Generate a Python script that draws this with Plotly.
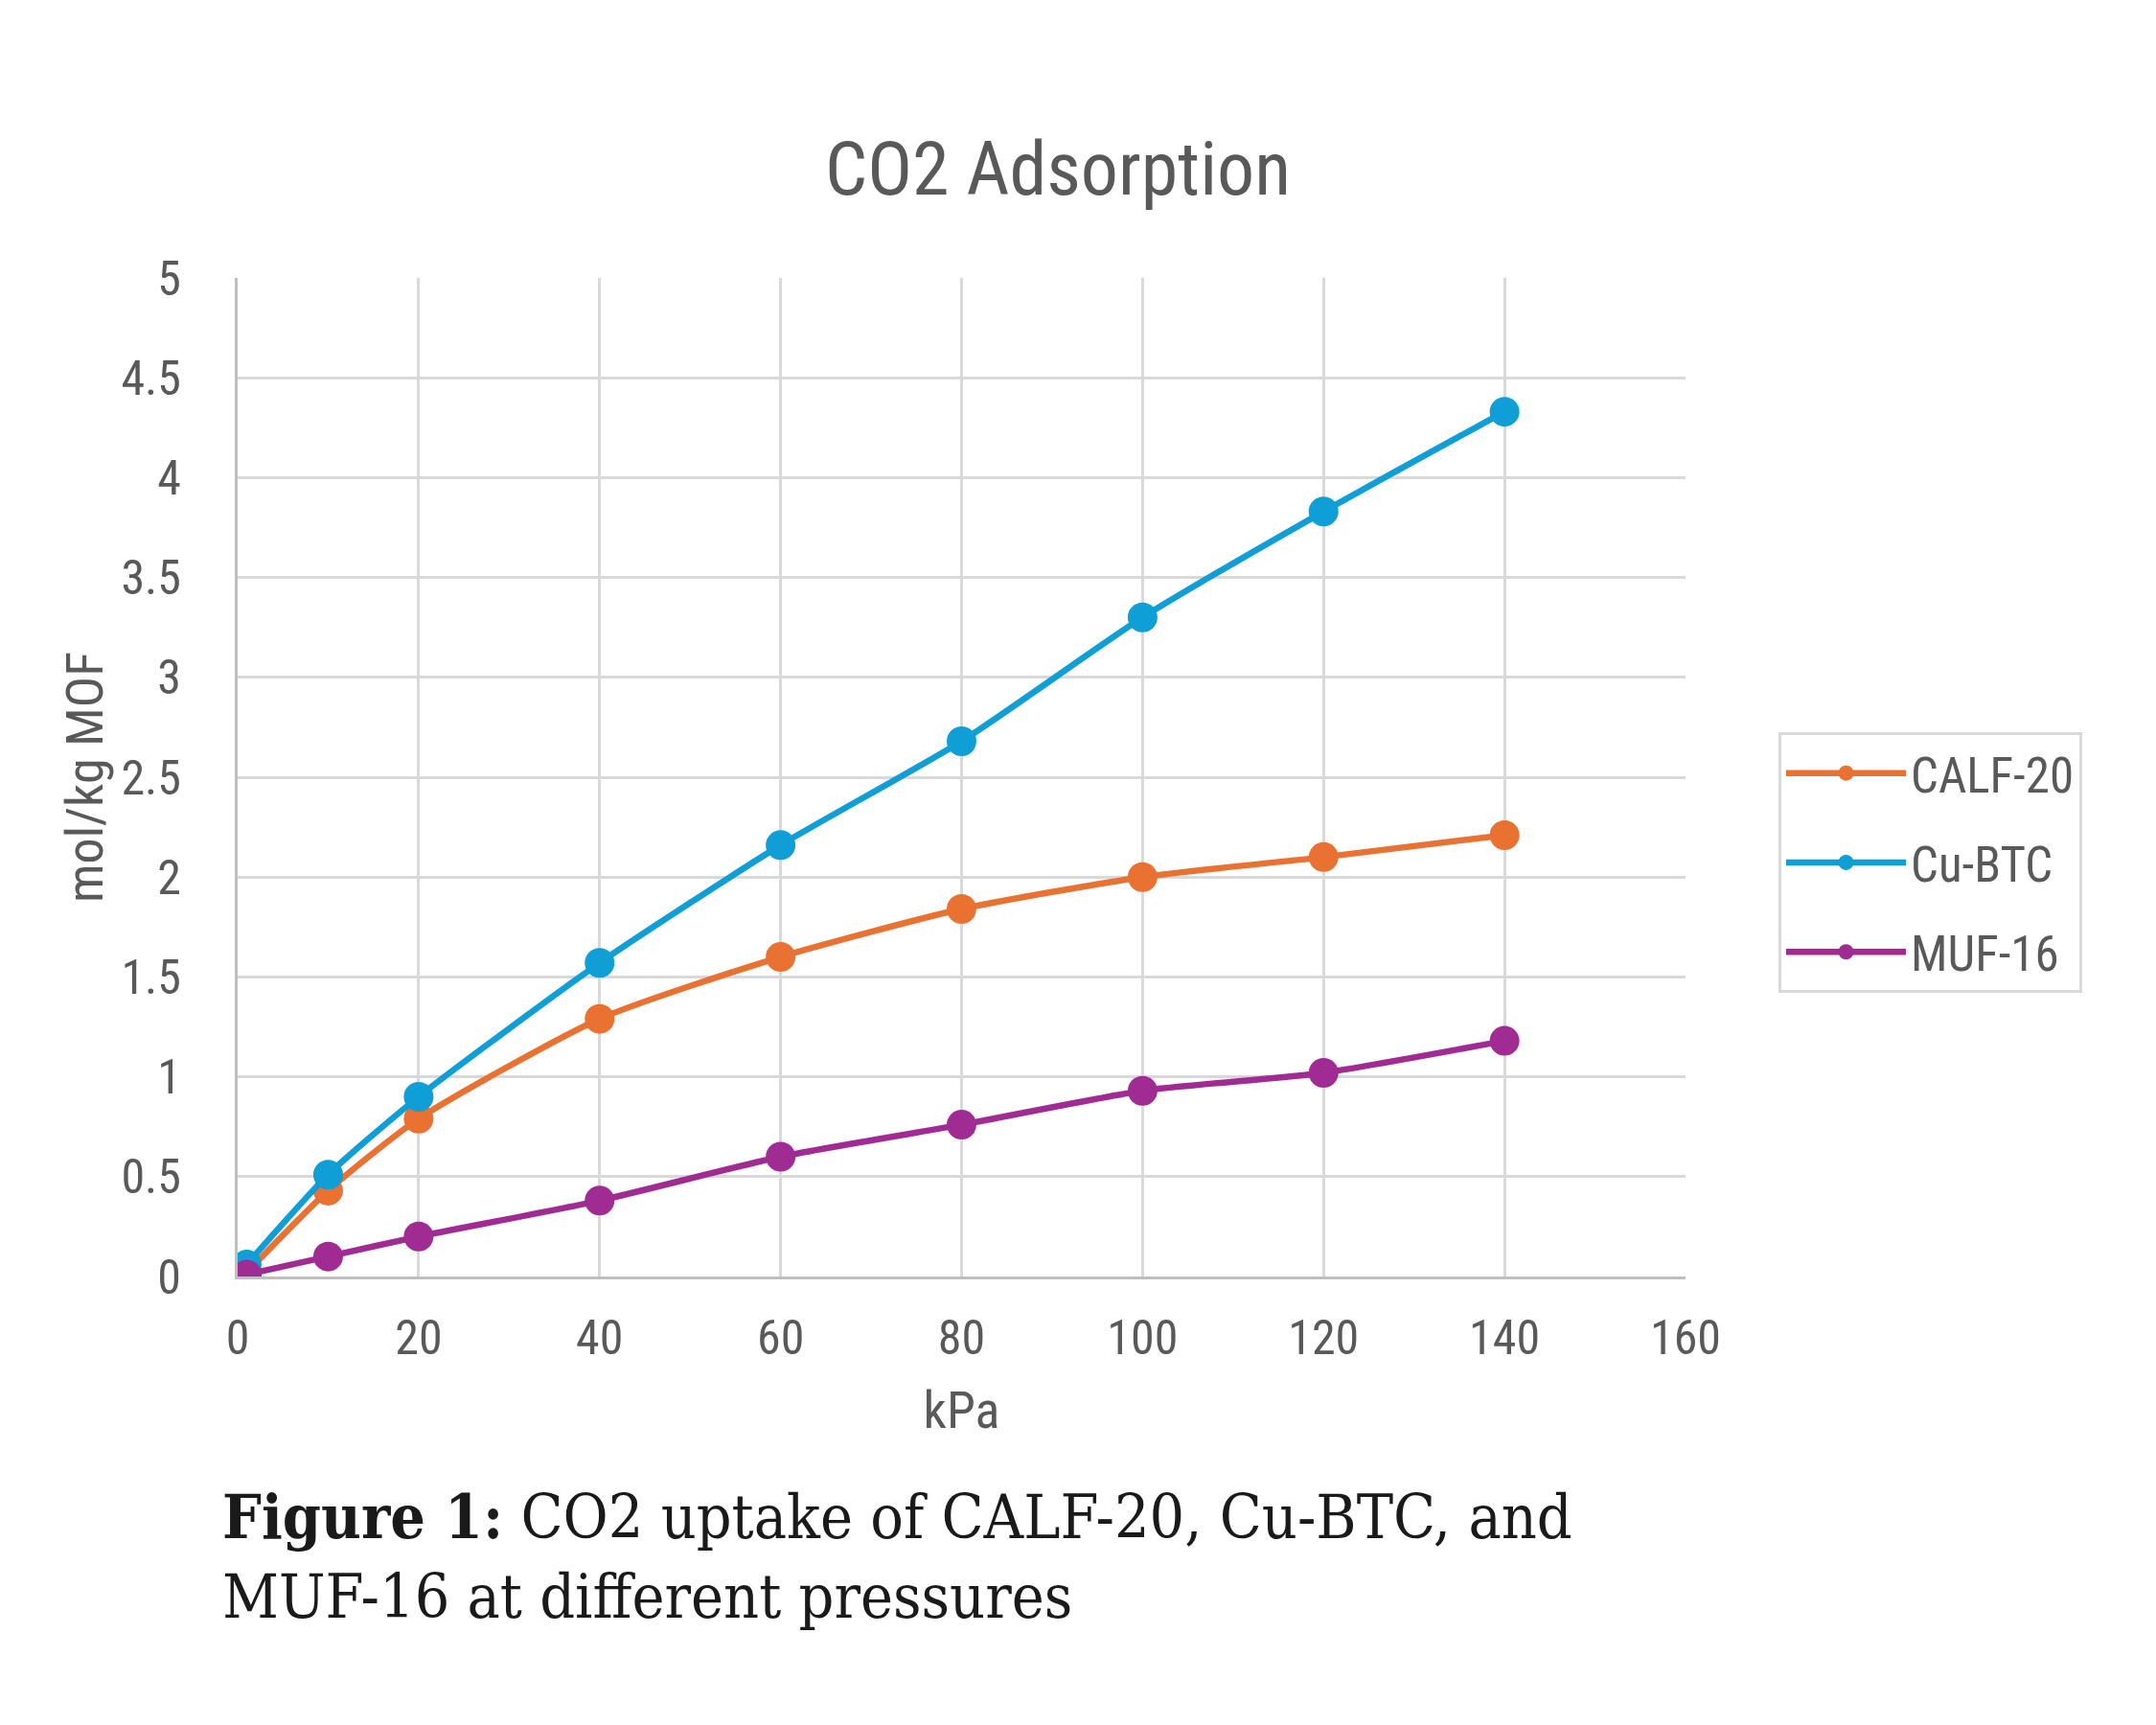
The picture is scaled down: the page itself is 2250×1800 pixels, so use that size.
import plotly.graph_objects as go

pressure_kpa = [1, 10, 20, 40, 60, 80, 100, 120, 140]
calf20 = [0.02, 0.43, 0.79, 1.29, 1.60, 1.84, 2.00, 2.10, 2.21]
cubtc = [0.06, 0.51, 0.90, 1.57, 2.16, 2.68, 3.30, 3.83, 4.33]
muf16 = [0.01, 0.10, 0.20, 0.38, 0.60, 0.76, 0.93, 1.02, 1.18]

series_names = ["CALF-20", "Cu-BTC", "MUF-16"]
series_values = [calf20, cubtc, muf16]
series_colors = ["#E97132", "#0F9ED5", "#A02B93"]

x_ticks = [0, 20, 40, 60, 80, 100, 120, 140, 160]
y_ticks = [0, 0.5, 1, 1.5, 2, 2.5, 3, 3.5, 4, 4.5, 5]

FONT = "Liberation Sans Narrow, Roboto Condensed, DejaVu Sans Condensed, Liberation Sans, Arial"
SERIF = "DejaVu Serif Condensed, Liberation Serif, serif"
TXT = "#595959"
GRID = "#D9D9D9"

# page body has an 8px default margin, so the figure is drawn 8px smaller
OFF = 8
W, H = 2250 - OFF, 1800 - OFF
L, T = 248 - OFF, 290 - OFF
PW, PH = 1511, 1042
R, B = W - L - PW, H - T - PH

fig = go.Figure()
for i, (name, vals, col) in enumerate(zip(series_names, series_values, series_colors)):
    fig.add_trace(go.Scatter(
        x=pressure_kpa, y=vals, name=name, mode="lines+markers",
        line=dict(color=col, width=6.5, shape="spline", smoothing=0.6),
        marker=dict(color=col, size=31, symbol="circle"),
        legendgroup=f"g{i}",
    ))

fig.update_layout(
    width=W, height=H,
    paper_bgcolor="white", plot_bgcolor="white",
    margin=dict(l=L, r=R, t=T, b=B),
    title=dict(text="CO2 Adsorption", x=(1104 - OFF) / W, xanchor="center",
               y=1 - (176 - OFF) / H, yanchor="middle",
               font=dict(family=FONT, size=78, color=TXT)),
    showlegend=True,
    legend=dict(
        x=(1856 - 248) / PW, y=(1332 - 764) / PH, xanchor="left", yanchor="top",
        bordercolor=GRID, borderwidth=3, bgcolor="white",
        font=dict(family=FONT, size=51, color=TXT),
        tracegroupgap=24, itemwidth=125,
    ),
    font=dict(family=FONT, color=TXT),
)

fig.update_xaxes(
    range=[0, 160], tickvals=x_ticks, ticktext=[str(v) for v in x_ticks],
    showgrid=True, gridcolor=GRID, gridwidth=2.5,
    showline=True, linecolor="#BFBFBF", linewidth=3,
    zeroline=False, ticks="", ticklabelstandoff=18,
    tickfont=dict(family=FONT, size=50, color=TXT),
    title=dict(text="kPa", font=dict(family=FONT, size=54, color=TXT), standoff=29),
)
fig.update_yaxes(
    range=[0, 5], tickvals=y_ticks, ticktext=[f"{v:g}" for v in y_ticks],
    showgrid=True, gridcolor=GRID, gridwidth=2.5,
    showline=True, linecolor="#BFBFBF", linewidth=3,
    zeroline=False, ticks="", ticklabelstandoff=46,
    tickfont=dict(family=FONT, size=50, color=TXT),
    title=dict(text="mol/kg MOF", font=dict(family=FONT, size=54, color=TXT), standoff=2),
)

fig.add_annotation(
    xref="paper", yref="paper", x=(230 - 248) / PW, y=(1332 - 1543) / PH,
    xanchor="left", yanchor="top", align="left", showarrow=False,
    text="<b>Figure 1:</b> CO2 uptake of CALF-20, Cu-BTC, and<br>MUF-16 at different pressures",
    font=dict(family=SERIF, size=64, color="#1a1a1a"),
)

fig.write_html("out.html")
